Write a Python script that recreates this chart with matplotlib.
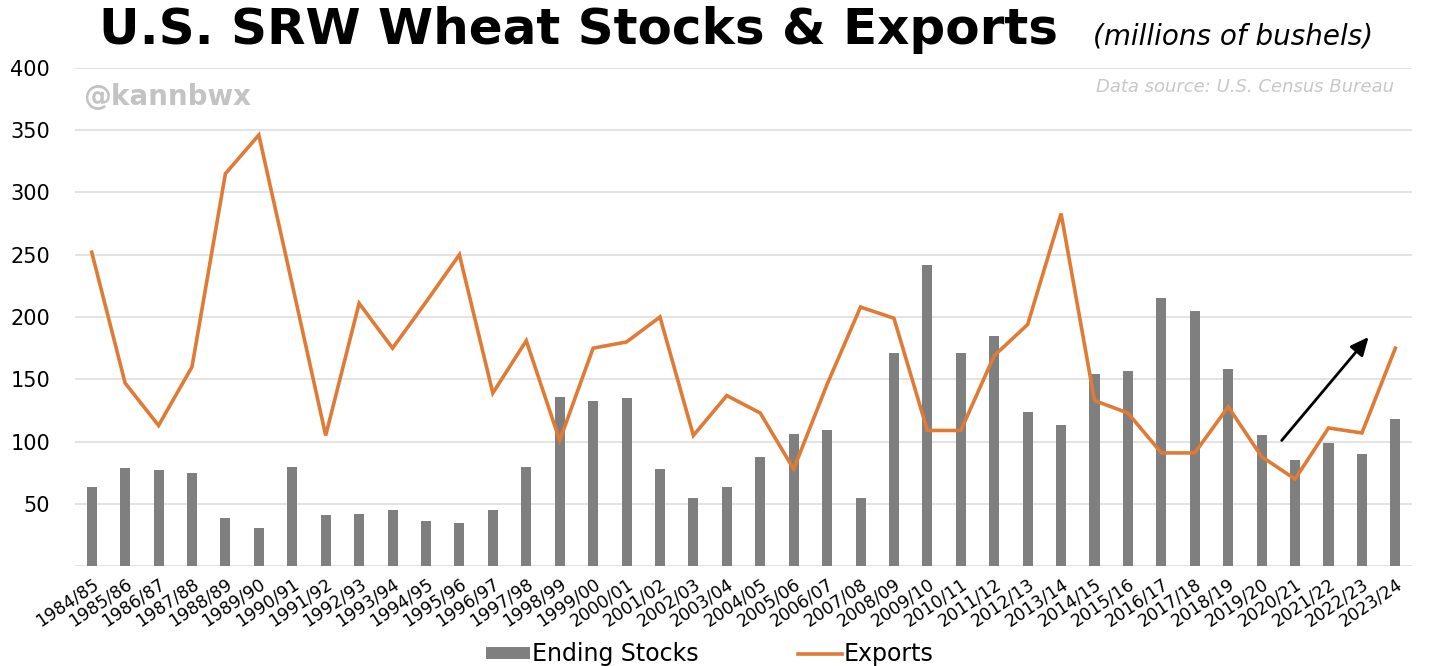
import matplotlib.pyplot as plt
from matplotlib.ticker import FuncFormatter

seasons = ['1984/85', '1985/86', '1986/87', '1987/88', '1988/89', '1989/90',
           '1990/91', '1991/92', '1992/93', '1993/94', '1994/95', '1995/96',
           '1996/97', '1997/98', '1998/99', '1999/00', '2000/01', '2001/02',
           '2002/03', '2003/04', '2004/05', '2005/06', '2006/07', '2007/08',
           '2008/09', '2009/10', '2010/11', '2011/12', '2012/13', '2013/14',
           '2014/15', '2015/16', '2016/17', '2017/18', '2018/19', '2019/20',
           '2020/21', '2021/22', '2022/23', '2023/24']

# millions of bushels
ending_stocks = [64, 79, 77, 75, 39, 31, 80, 41, 42, 45, 36, 35, 45, 80,
                 136, 133, 135, 78, 55, 64, 88, 106, 109, 55, 171, 242,
                 171, 185, 124, 113, 154, 157, 215, 205, 158, 105, 85, 99,
                 90, 118]
exports = [252, 147, 113, 160, 315, 346, 226, 105, 211, 175, 212, 250, 139,
           181, 101, 175, 180, 200, 105, 137, 123, 78, 146, 208, 199, 109,
           109, 169, 194, 283, 133, 123, 91, 91, 128, 88, 70, 111, 107, 175]

bar_color = '#7f7f7f'
line_color = '#e07b36'

fig = plt.figure(figsize=(14.34, 6.66), dpi=100)
ax = fig.add_axes([0.0523, 0.1496, 0.9324, 0.7488])

x = list(range(len(seasons)))
bars = ax.bar(x, ending_stocks, width=0.3, color=bar_color,
              label='Ending Stocks', zorder=2)
line, = ax.plot(x, exports, color=line_color, lw=2.6, label='Exports',
                zorder=3, solid_joinstyle='miter')

ax.set_xlim(-0.5, len(seasons) - 0.5)
ax.set_ylim(0, 400)
ax.set_yticks(range(0, 401, 50))
ax.yaxis.set_major_formatter(FuncFormatter(lambda v, p: '' if v == 0 else f'{v:.0f}'))
ax.grid(axis='y', color='#dedede', lw=1.2, zorder=0)
ax.set_axisbelow(True)
for s in ax.spines.values():
    s.set_visible(False)

ax.set_xticks(x)
ax.set_xticklabels(seasons, rotation=34, ha='right', rotation_mode='anchor',
                   fontsize=12.5)
ax.tick_params(axis='x', length=0, pad=6)
ax.tick_params(axis='y', length=0, pad=18, labelsize=15)

# trend arrow into the latest season
ax.annotate('', xy=(38.2, 184), xytext=(35.6, 101),
            arrowprops=dict(arrowstyle='-|>,head_length=0.55,head_width=0.25',
                            color='black', lw=2, mutation_scale=20,
                            shrinkA=0, shrinkB=0))

fig.text(99 / 1434, 1 - 44 / 666, 'U.S. SRW Wheat Stocks & Exports',
         fontsize=36, fontweight='bold', va='baseline', ha='left')
fig.text(1093 / 1434, 1 - 45 / 666, '(millions of bushels)',
         fontsize=20, style='italic', va='baseline', ha='left')
fig.text(83 / 1434, 1 - 97 / 666, '@kannbwx', fontsize=20, fontweight='bold',
         color='#c3c3c3', va='center', ha='left')
fig.text(1394 / 1434, 1 - 87 / 666, 'Data source: U.S. Census Bureau',
         fontsize=13, style='italic', color='#c8c8c8', va='center', ha='right')

fig.legend(handles=[bars, line], labels=['Ending Stocks', 'Exports'],
           loc='center', bbox_to_anchor=(710 / 1434, 1 - 654 / 666), ncol=2,
           frameon=False, fontsize=17, handlelength=1.85, handleheight=0.4,
           handletextpad=0.1, columnspacing=4.2, borderaxespad=0, borderpad=0)

fig.savefig('out.png', dpi=100)
